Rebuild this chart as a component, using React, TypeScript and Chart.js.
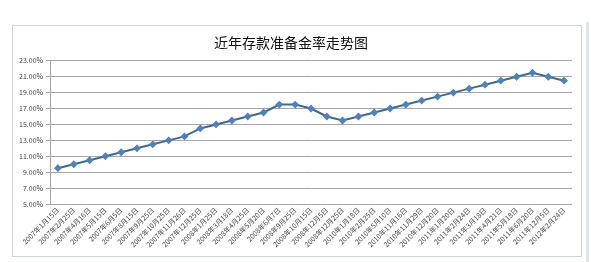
import React, { useEffect, useRef } from "react";
import { Chart, registerables } from "chart.js";

Chart.register(...registerables);

// Effective dates of reserve requirement ratio changes
const dates: string[] = [
  "2007年1月15日", "2007年2月25日", "2007年4月16日", "2007年5月15日",
  "2007年6月5日", "2007年8月15日", "2007年9月25日", "2007年10月25日",
  "2007年11月26日", "2007年12月25日", "2008年1月25日", "2008年3月18日",
  "2008年4月25日", "2008年5月20日", "2008年6月7日", "2008年9月25日",
  "2008年10月15日", "2008年12月5日", "2008年12月25日", "2010年1月18日",
  "2010年2月25日", "2010年5月10日", "2010年11月16日", "2010年11月29日",
  "2010年12月20日", "2011年1月20日", "2011年2月24日", "2011年3月18日",
  "2011年4月21日", "2011年5月18日", "2011年6月20日", "2011年12月5日",
  "2012年2月24日",
];

// Ratio in percent after each adjustment
const ratios: number[] = [
  9.5, 10, 10.5, 11, 11.5, 12, 12.5, 13, 13.5, 14.5, 15, 15.5, 16, 16.5,
  17.5, 17.5, 17, 16, 15.5, 16, 16.5, 17, 17.5, 18, 18.5, 19, 19.5, 20,
  20.5, 21, 21.5, 21, 20.5,
];

const yMin = 5;
const yMax = 23;
const yStep = 2;

const title = "近年存款准备金率走势图";

export default function App() {
  const canvasRef = useRef<HTMLCanvasElement | null>(null);

  useEffect(() => {
    if (!canvasRef.current) return;
    const chart = new Chart(canvasRef.current, {
      type: "line",
      data: {
        labels: dates,
        datasets: [
          {
            data: ratios,
            borderColor: "#3f6a88",
            borderWidth: 2,
            pointStyle: "rectRot",
            pointRadius: 2.5,
            pointBackgroundColor: "#4f81bd",
            pointBorderColor: "#4f81bd",
            tension: 0,
          },
        ],
      },
      options: {
        animation: false,
        responsive: false,
        maintainAspectRatio: false,
        layout: { padding: { left: 10, right: 19, top: 0, bottom: 8 } },
        plugins: {
          legend: { display: false },
          tooltip: { enabled: false },
          title: {
            display: true,
            text: title,
            color: "#111",
            font: { family: "'Noto Sans CJK SC'", size: 14, weight: "normal", lineHeight: 1.2 },
            padding: { top: 34, bottom: 10 },
          },
        },
        scales: {
          x: {
            offset: true,
            grid: { display: false, drawTicks: false },
            border: { display: false },
            ticks: {
              autoSkip: false,
              minRotation: 45,
              maxRotation: 45,
              padding: 2,
              color: "#444",
              font: { family: "'Noto Sans CJK SC'", size: 7 },
            },
            afterFit: (s: any) => {
              s.height = 50;
            },
          },
          y: {
            min: yMin,
            max: yMax,
            grid: { color: "#a6a6a6", lineWidth: 1, tickLength: 4 },
            border: { display: true, color: "#a6a6a6" },
            ticks: {
              stepSize: yStep,
              padding: 3,
              color: "#444",
              font: { family: "'Noto Sans CJK SC'", size: 7 },
              callback: (v: any) => Number(v).toFixed(2) + "%",
            },
            afterFit: (s: any) => {
              s.width = 40;
            },
          },
        },
      },
    });
    return () => chart.destroy();
  }, []);

  return (
    <div style={{ position: "absolute", left: 0, top: 0, width: 591, height: 262, background: "#fff", overflow: "hidden" }}>
      <div
        style={{
          position: "absolute",
          left: 12,
          top: 25,
          width: 570,
          height: 232,
          border: "1px solid #cfd4d8",
          boxSizing: "border-box",
        }}
      />
      <div style={{ position: "absolute", left: 586, top: 22, width: 3, height: 240, background: "#e2e6ea" }} />
      <canvas ref={canvasRef} width={591} height={262} style={{ position: "absolute", left: 0, top: 0 }} />
    </div>
  );
}
